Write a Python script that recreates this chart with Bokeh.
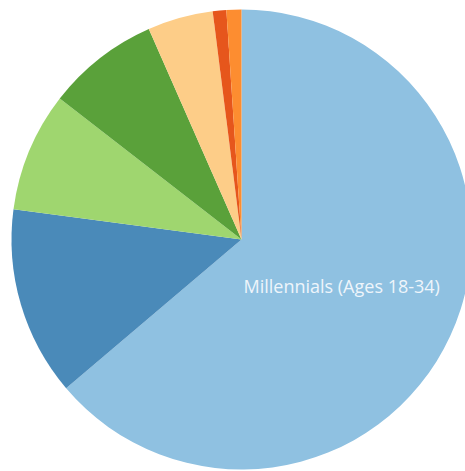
import math
from bokeh.plotting import figure
from bokeh.models import Range1d, ColumnDataSource
from bokeh.core.properties import value
from bokeh.embed import file_html
from bokeh.resources import INLINE

categories = ["Millennials (Ages 18-34)", "Gen X (Ages 35-50)", "Boomers (Ages 51-69)",
              "Silent (Ages 70-87)", "Gen Z (Under 18)", "Greatest (Ages 88+)", "Other"]
shares = [63.8, 13.3, 8.4, 7.9, 4.6, 0.95, 1.05]
colors = ["#8fc1e1", "#4a8ab9", "#9fd66f", "#5aa13a", "#fdcd88", "#e6561c", "#fd8d30"]
labelled = ["Millennials (Ages 18-34)"]

R = 230
total = sum(shares)
starts, ends = [], []
a = math.pi / 2
for s in shares:
    starts.append(a)
    a -= s / total * 2 * math.pi
    ends.append(a)

src = ColumnDataSource(dict(cat=categories, start=starts, end=ends, color=colors))

W, H = 465, 471
cx, cy = 241, 239
p = figure(width=W, height=H, output_backend="svg", toolbar_location=None,
           x_range=Range1d(-cx, W - cx), y_range=Range1d(-(H - cy), cy),
           min_border=0)
p.axis.visible = False
p.grid.visible = False
p.outline_line_color = None
p.background_fill_color = "white"
p.border_fill_color = "white"

p.wedge(x=0, y=0, radius=R, start_angle="start", end_angle="end", direction="clock",
        fill_color="color", line_color=None, source=src)

lx, ly, lt = [], [], []
for c, s0, s1 in zip(categories, starts, ends):
    if c in labelled:
        mid = (s0 + s1) / 2
        lx.append(0.48 * R * math.cos(mid))
        ly.append(0.48 * R * math.sin(mid))
        lt.append(c)
p.text(x=lx, y=ly, text=lt, text_align="center", text_baseline="middle",
       text_font=value("Open Sans"), text_font_size="18px", text_color="#eef5fb")

open("out.html", "w").write(file_html(p, INLINE))
